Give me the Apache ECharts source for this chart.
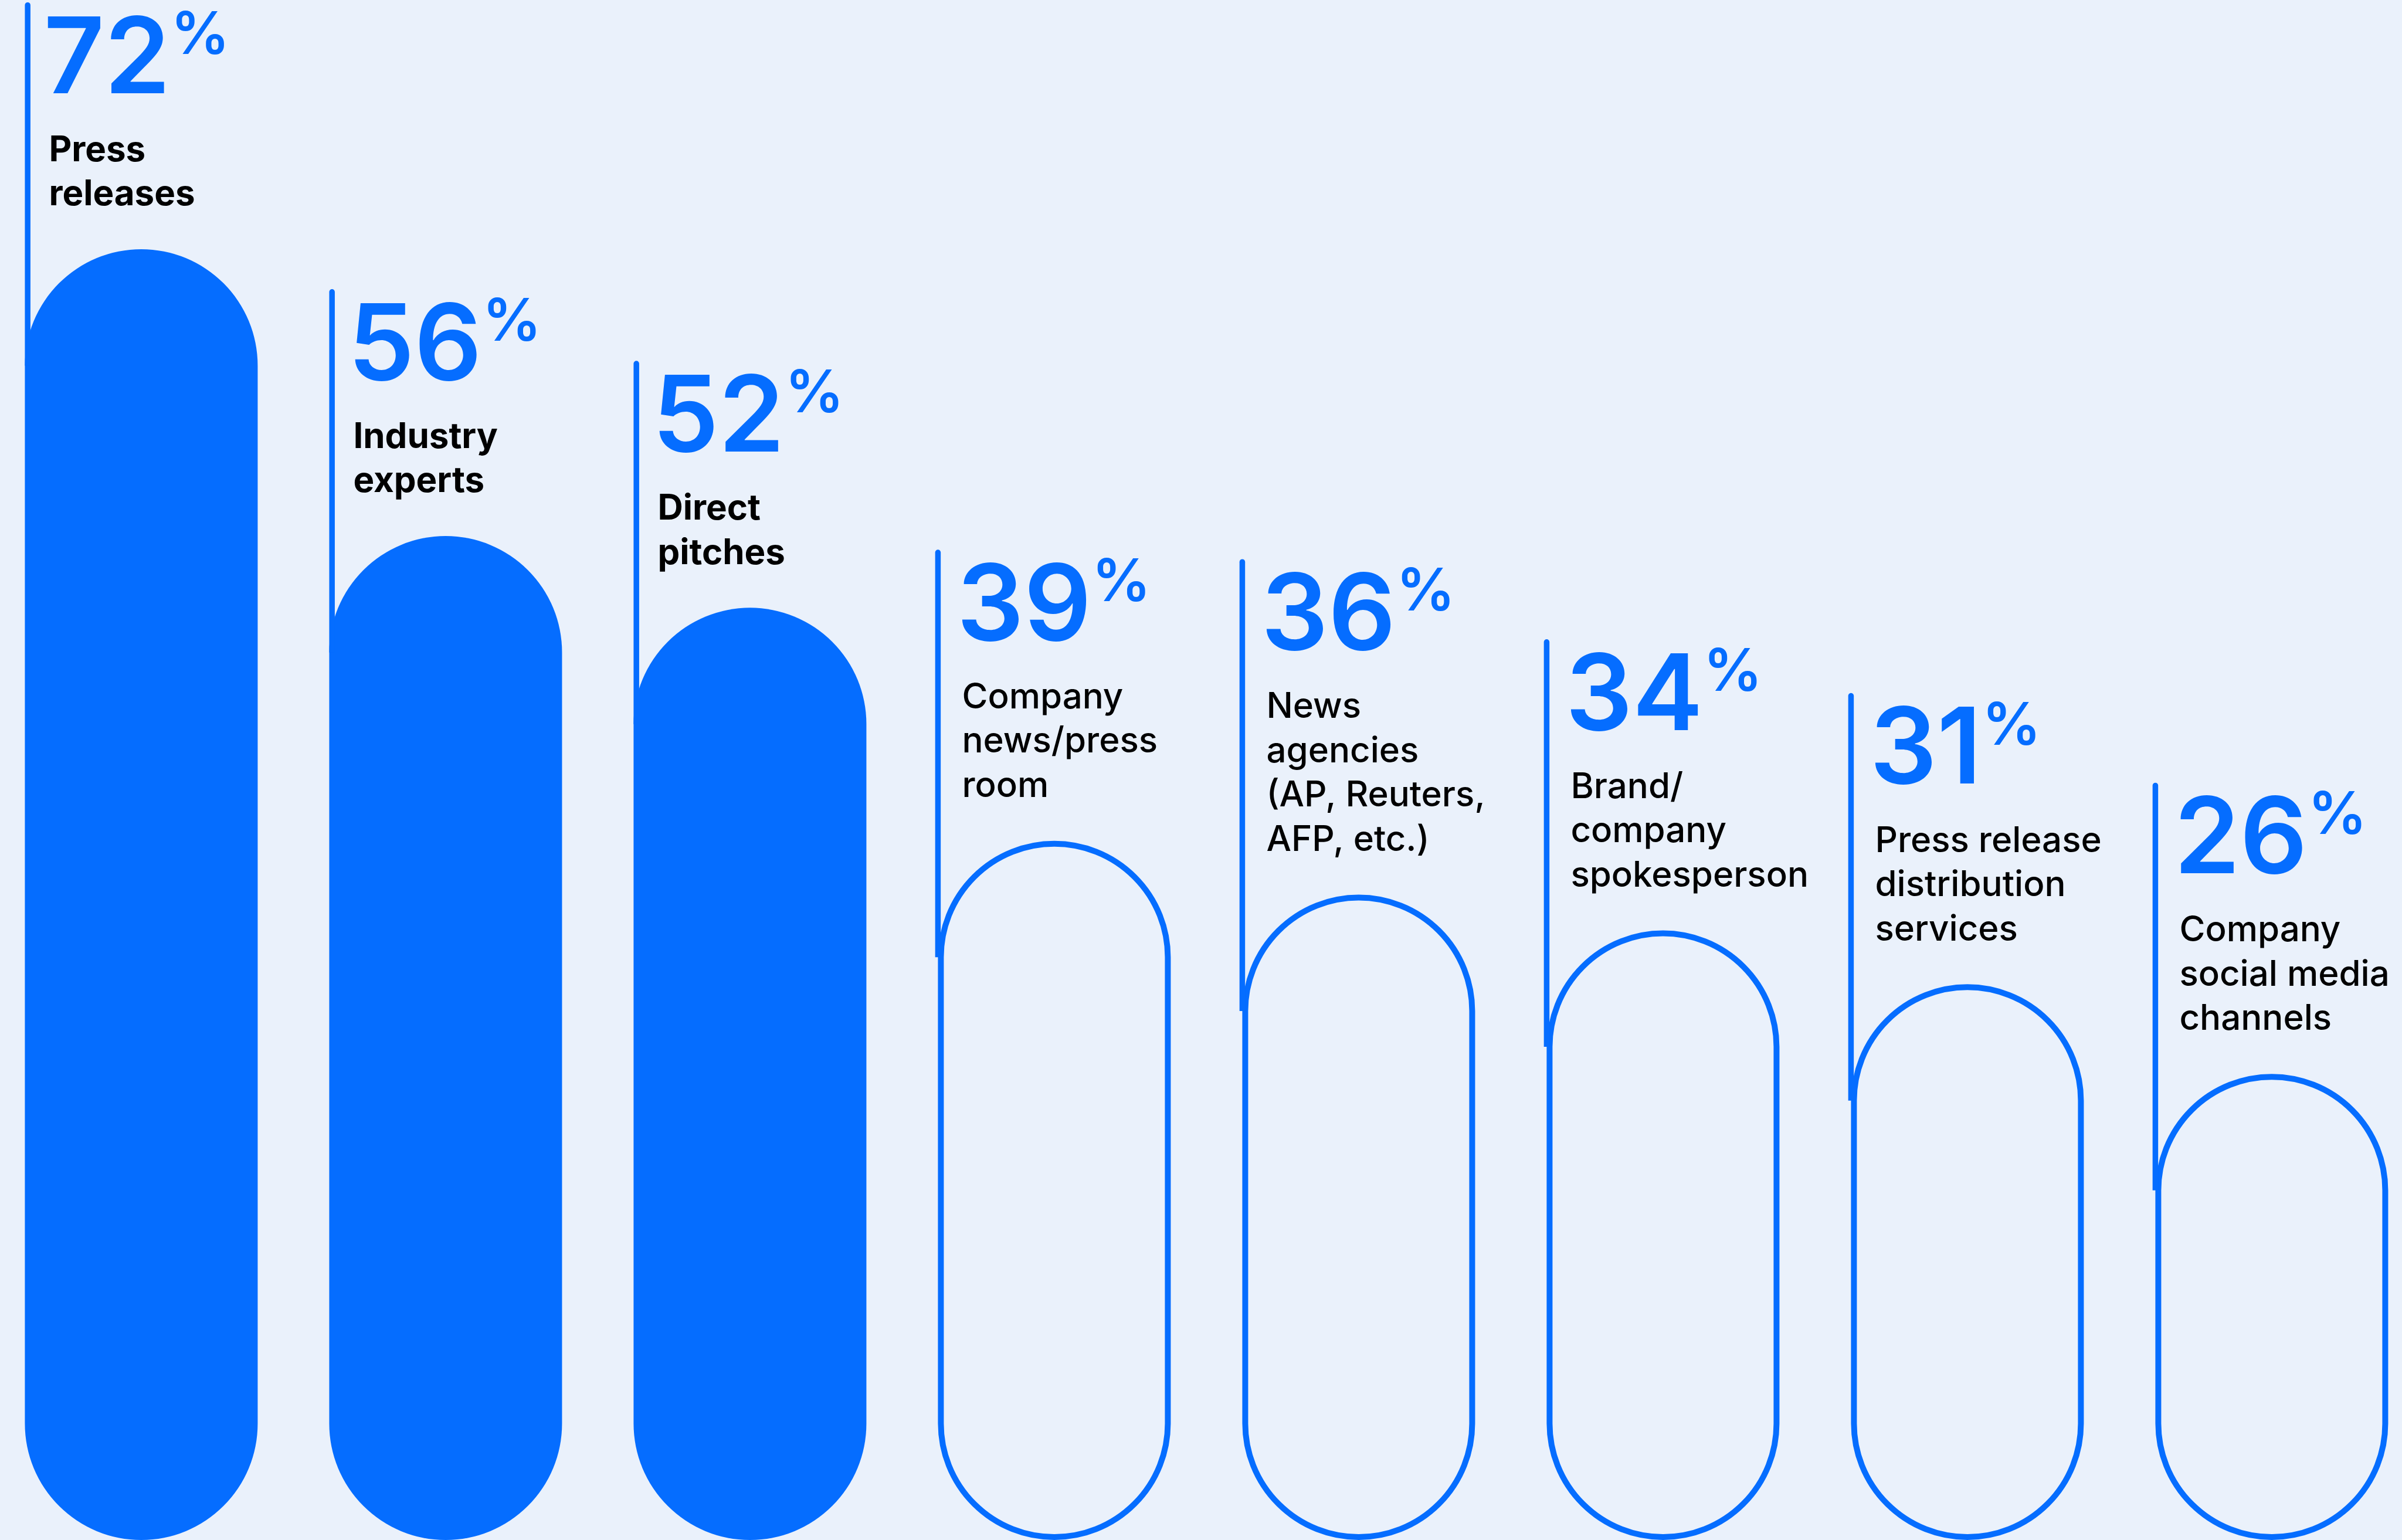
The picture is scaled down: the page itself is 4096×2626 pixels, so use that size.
<!DOCTYPE html>
<html>
<head>
<meta charset="utf-8">
<title>Sources</title>
<script src="https://cdn.jsdelivr.net/npm/echarts@6/dist/echarts.min.js"></script>
<style>
  html, body { margin: 0; padding: 0; background: #eaf1fb; }
  #chart { width: 4096px; height: 2626px; }
</style>
</head>
<body>
<div id="chart"></div>
<script>
// data
var sources = [
  'Press\nreleases',
  'Industry\nexperts',
  'Direct\npitches',
  'Company\nnews/press\nroom',
  'News\nagencies\n(AP, Reuters,\nAFP, etc.)',
  'Brand/\ncompany\nspokesperson',
  'Press release\ndistribution\nservices',
  'Company\nsocial media\nchannels'
];
var shares = [72, 56, 52, 39, 36, 34, 31, 26];

var BLUE = '#056dff';
var BG = '#eaf1fb';
var FONT = 'Inter';
var BAR_W = 397;
var FILLED = 3;     // first three pills are solid
var LINE_W = 9.5;

var measure = document.createElement('canvas').getContext('2d');
function textWidth(txt, font) {
  measure.font = font;
  return measure.measureText(txt).width;
}

// the blue flag line + number + name above each pill
function renderNote(params, api) {
  var i = api.value(0);
  var top = api.coord([i, api.value(1)]);
  var left = top[0] - BAR_W / 2;
  var T = top[1];
  var filled = i < FILLED;
  var lines = sources[i].split('\n');
  var n = lines.length;

  var lastBase = T - 76;
  var firstBase = lastBase - (n - 1) * 75.5;
  var numBase = firstBase - 108.5;
  var lineTop = numBase - 161;
  var dy = 5;

  var children = [];
  var lx = filled ? left : left - LINE_W / 2;
  children.push({
    type: 'rect',
    shape: { x: lx, y: lineTop, width: LINE_W, height: T + BAR_W / 2 - lineTop, r: [LINE_W / 2, LINE_W / 2, 0, 0] },
    style: { fill: BLUE }
  });

  var numX = left + 32;
  var numTxt = String(shares[i]);
  children.push({
    type: 'text',
    x: numX, y: numBase - 0.3635 * 180 + dy,
    style: { text: numTxt, fill: BLUE, font: '600 180px ' + FONT, align: 'left', verticalAlign: 'middle' }
  });
  var w = textWidth(numTxt, '600 180px ' + FONT);
  children.push({
    type: 'text',
    x: numX + w + 1, y: numBase - 72 - 0.3635 * 100 + dy,
    style: { text: '%', fill: BLUE, font: '600 100px ' + FONT, align: 'left', verticalAlign: 'middle' }
  });

  for (var k = 0; k < n; k++) {
    var base = firstBase + k * 75.5;
    children.push({
      type: 'text',
      x: left + 41, y: base - 0.3635 * 60 + dy,
      style: {
        text: lines[k], fill: '#000000',
        font: (filled ? '700' : '500') + ' 60px ' + FONT,
        align: 'left', verticalAlign: 'middle'
      }
    });
  }
  return { type: 'group', children: children };
}

var chart = echarts.init(document.getElementById('chart'));
var option = {
  backgroundColor: BG,
  animation: false,
  grid: { left: 0, right: 0, top: 0, bottom: 0 },
  xAxis: {
    type: 'value',
    min: -0.4642,
    max: 7.4279,
    show: false
  },
  yAxis: {
    type: 'value',
    min: 0,
    max: 85.9,
    show: false
  },
  series: [
    {
      type: 'bar',
      barWidth: BAR_W,
      data: shares.map(function (v, i) {
        var filled = i < FILLED;
        return {
          value: [i, v],
          itemStyle: filled ? {
            color: BLUE,
            borderRadius: BAR_W / 2
          } : {
            color: 'rgba(0,0,0,0)',
            borderColor: BLUE,
            borderWidth: 10,
            borderRadius: BAR_W / 2
          }
        };
      })
    },
    {
      type: 'custom',
      renderItem: renderNote,
      clip: false,
      z: 3,
      data: shares.map(function (v, i) { return [i, v]; })
    }
  ]
};
chart.setOption(option);
</script>
</body>
</html>
